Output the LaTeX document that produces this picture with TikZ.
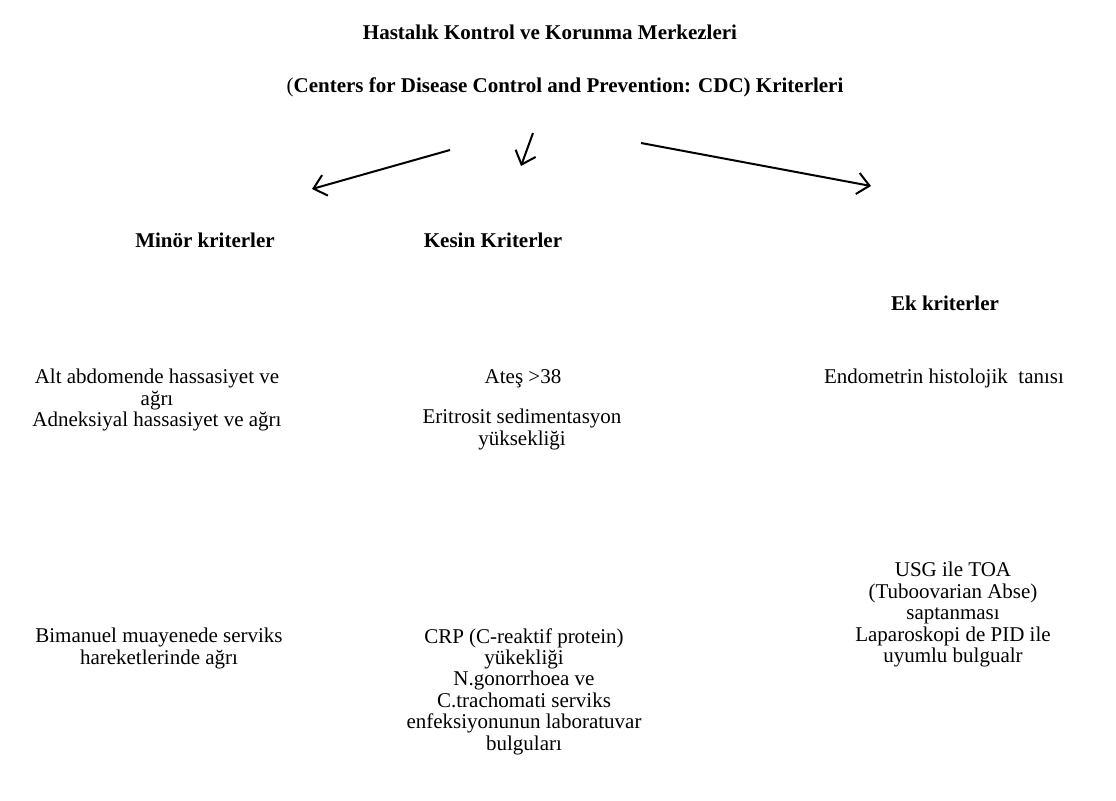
\documentclass[tikz,border=0pt]{standalone}
\usepackage{fontspec}
\setmainfont{Liberation Serif}
\usetikzlibrary{positioning,arrows.meta}

\begin{document}
\begin{tikzpicture}[x=0.75pt,y=-0.75pt,
    baslik/.style={font=\fontsize{15.75}{16.1}\selectfont\bfseries,inner sep=0pt,anchor=north},
    madde/.style={font=\fontsize{15.75}{16.1}\selectfont,align=center,inner sep=0pt,anchor=north},
    ok/.style={->,line width=1.5pt,>={Straight Barb[length=9pt,width=16pt]}}]
            \useasboundingbox (0,0) rectangle (1116,800);
            % basliklar
            \node[baslik] (t1) at (550,25) {Hastalık Kontrol ve Korunma Merkezleri};
            \node[baslik] (t2) at (565,77) {{\mdseries(}Centers for Disease Control and Prevention: CDC) Kriterleri};
            \node[baslik] (minor) at (205,233) {Minör kriterler};
            \node[baslik] (kesin) at (493,233) {Kesin Kriterler};
            \node[baslik] (ek) at (945,296) {Ek kriterler};
            % oklar
            \coordinate (a1) at (450,150); \coordinate (b1) at (312,189);
            \coordinate (a2) at (533,133); \coordinate (b2) at (521,166);
            \coordinate (a3) at (641,143); \coordinate (b3) at (871,186);
            \draw[ok] (a1) -- (b1);
            \draw[ok] (a2) -- (b2);
            \draw[ok] (a3) -- (b3);
            % minor kriterler
            \node[madde] (m1) at (157,369) {Alt abdomende hassasiyet ve\\ağrı\\Adneksiyal hassasiyet ve ağrı};
            \node[madde] (m2) at (159,628) {Bimanuel muayenede serviks\\hareketlerinde ağrı};
            % kesin kriterler
            \node[madde] (k1) at (523,369) {Ateş >38};
            \node[madde] (k2) at (522,409) {Eritrosit sedimentasyon\\yüksekliği};
            \node[madde] (k3) at (524,628) {CRP (C-reaktif protein)\\yükekliği\\N.gonorrhoea ve\\C.trachomati serviks\\enfeksiyonunun laboratuvar\\bulguları};
            % ek kriterler
            \node[madde] (e1) at (944,369) {Endometrin histolojik\ \ tanısı};
            \node[madde] (e2) at (953,562) {USG ile TOA\\(Tuboovarian Abse)\\saptanması\\Laparoskopi de PID ile\\uyumlu bulgualr};
        \end{tikzpicture}
\end{document}
